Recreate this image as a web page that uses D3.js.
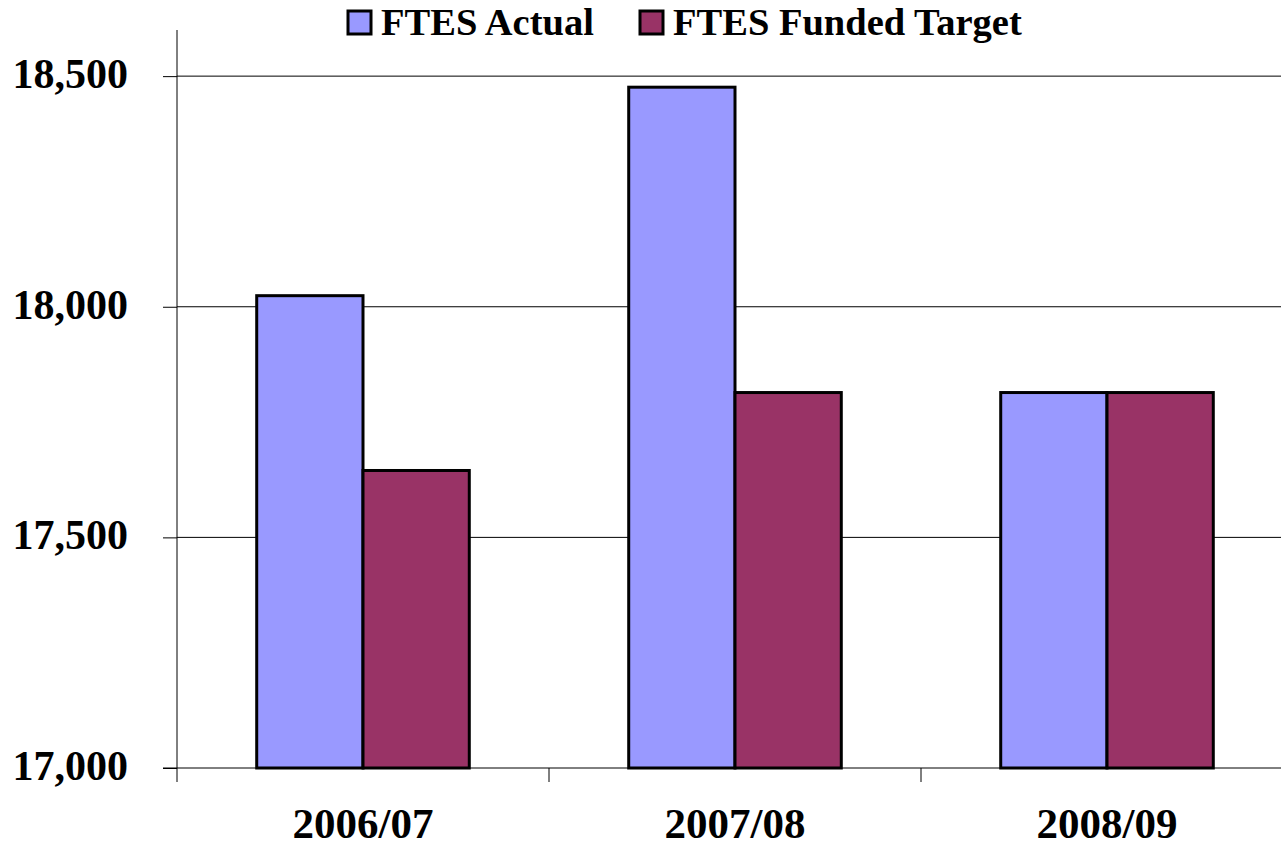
<!DOCTYPE html>
<html>
<head>
<meta charset="utf-8">
<script src="https://cdn.jsdelivr.net/npm/d3@7"></script>
<style>
  body { margin: 0; background: #fff; }
  text { font-family: "Liberation Serif", "Times New Roman", serif; font-weight: bold; }
</style>
</head>
<body>
<div id="plot"></div>
<script>
let years = ['2006/07', '2007/08', '2008/09']
let series = ['FTES Actual', 'FTES Funded Target']
let actual = [18024, 18476, 17814]
let funded = [17645, 17814, 17814]
let yTicks = [17000, 17500, 18000, 18500]
let colors = ['#9999FF', '#993366']

let values = [actual, funded]

let svg = d3.select('#plot').append('svg')
.attr('width', 1281)
.attr('height', 850)

let plotLeft = 177, plotRight = 1293, plotTop = 30, plotBottom = 768

let x = d3.scaleBand().domain(years).range([plotLeft, plotRight])
let xs = d3.scaleBand().domain(series).range([0, x.bandwidth()]).paddingOuter(0.75).paddingInner(0)
let y = d3.scaleLinear().domain([17000, 18600]).range([plotBottom, plotTop])

// gridlines
svg.selectAll('.grid').data(yTicks.slice(1)).enter()
.append('line')
.attr('x1', plotLeft).attr('x2', plotRight)
.attr('y1', d => y(d)).attr('y2', d => y(d))
.attr('stroke', 'black')
.attr('stroke-width', 1)

// bars
for(let s = 0; s < series.length; s++) {
  svg.selectAll('.bar' + s).data(years).enter()
  .append('rect')
  .attr('x', d => x(d) + xs(series[s]))
  .attr('y', (d, i) => y(values[s][i]))
  .attr('width', xs.bandwidth())
  .attr('height', (d, i) => plotBottom - y(values[s][i]))
  .attr('fill', colors[s])
  .attr('stroke', 'black')
  .attr('stroke-width', 3)
}

// y axis
let yAxis = svg.append('g')
.attr('transform', 'translate(' + plotLeft + ',0)')
.call(d3.axisLeft(y).tickValues(yTicks).tickSize(14).tickFormat(d3.format(',')))
yAxis.select('.domain').attr('d', 'M0,' + plotTop + 'V' + (plotBottom + 14))
yAxis.selectAll('text')
.attr('x', -49)
.attr('dy', '0.27em')
.style('font-size', '42px')
.style('font-family', '"Liberation Serif", serif')
.style('font-weight', 'bold')
.attr('fill', 'black')

// x axis
let xAxis = svg.append('g')
.attr('transform', 'translate(0,' + plotBottom + ')')
.call(d3.axisBottom(x).tickSize(0).tickPadding(0))
xAxis.select('.domain').attr('d', 'M' + (plotLeft - 14) + ',0H' + plotRight)
xAxis.selectAll('text')
.attr('y', 70)
.attr('dy', 0)
.style('font-size', '43px')
.style('font-family', '"Liberation Serif", serif')
.style('font-weight', 'bold')
.attr('fill', 'black')

svg.selectAll('.xtick').data(years.slice(1)).enter()
.append('line')
.attr('x1', d => x(d)).attr('x2', d => x(d))
.attr('y1', plotBottom).attr('y2', plotBottom + 14)
.attr('stroke', 'black')

// legend
let legendX = [348, 640]
let legend = svg.selectAll('.legend').data(series).enter()
.append('g')
.attr('transform', (d, i) => 'translate(' + legendX[i] + ',11)')

legend.append('rect')
.attr('width', 23).attr('height', 23)
.attr('fill', (d, i) => colors[i])
.attr('stroke', 'black')
.attr('stroke-width', 3)

legend.append('text')
.attr('x', 33)
.attr('y', 24)
.style('font-size', '38.5px')
.text(d => d)
</script>
</body>
</html>
